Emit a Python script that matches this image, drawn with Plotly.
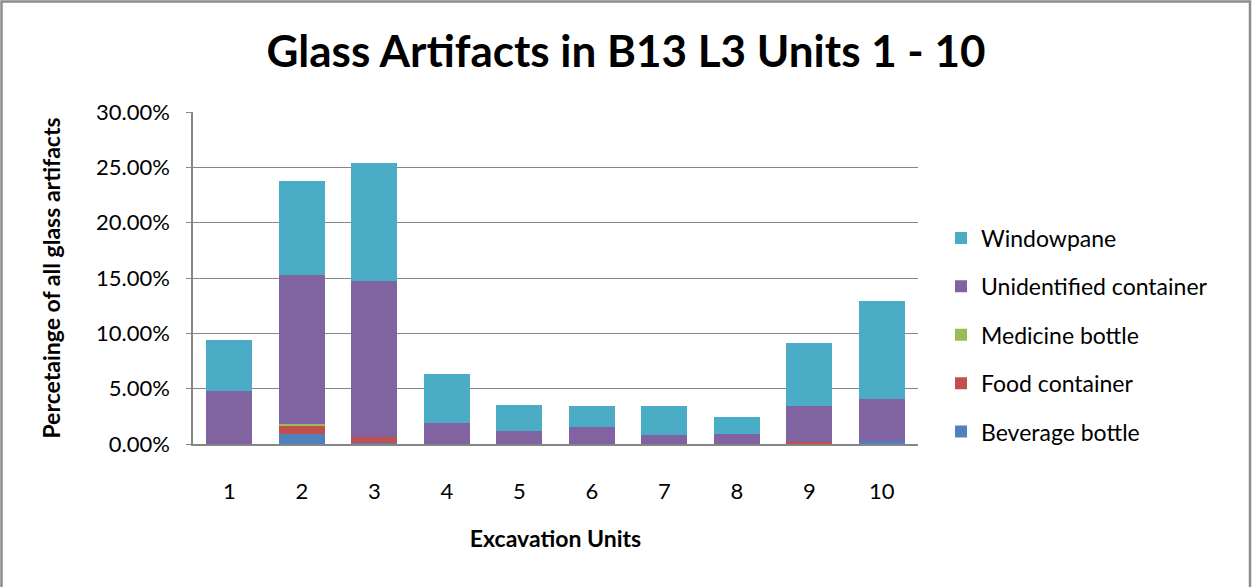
import plotly.graph_objects as go

units = ["1", "2", "3", "4", "5", "6", "7", "8", "9", "10"]
beverage = [0.0, 0.009, 0.001, 0.0, 0.0, 0.0, 0.0, 0.0, 0.0, 0.0025]
food = [0.0, 0.0075, 0.0055, 0.0, 0.0, 0.0, 0.0, 0.0, 0.0015, 0.0]
medicine = [0.0, 0.0018, 0.0, 0.0, 0.0, 0.0, 0.0, 0.0, 0.0, 0.0]
unidentified = [0.048, 0.1340, 0.141, 0.019, 0.012, 0.015, 0.008, 0.009, 0.0325, 0.0385]
windowpane = [0.046, 0.085, 0.106, 0.044, 0.023, 0.019, 0.026, 0.015, 0.057, 0.088]

series = [
    ("Beverage bottle", beverage, "#4F81BD"),
    ("Food container", food, "#C0504D"),
    ("Medicine bottle", medicine, "#9BBB59"),
    ("Unidentified container", unidentified, "#8064A2"),
    ("Windowpane", windowpane, "#4BACC6"),
]

FONT = "Lato, 'Open Sans', sans-serif"
W, H = 1252, 587
ML, MR, MT, MB = 193, 334, 112, 143

fig = go.Figure()
n = len(series)
for i, (name, vals, color) in enumerate(series):
    fig.add_trace(go.Bar(
        name=name, x=units, y=vals, legendgroup=name, legendrank=n - i,
        marker=dict(color=color, line=dict(width=0)),
        hovertemplate="%{x}: %{y:.2%}<extra>" + name + "</extra>",
    ))

pw = W - ML - MR
ph = H - MT - MB

fig.update_layout(
    width=W, height=H,
    margin=dict(l=ML, r=MR, t=MT, b=MB, autoexpand=False),
    barmode="stack", bargap=0.36,
    paper_bgcolor="white", plot_bgcolor="white",
    font=dict(family=FONT, size=20, color="#000000"),
    title=dict(text="<b>Glass Artifacts in B13 L3 Units 1 - 10</b>",
               x=0.5, xanchor="center", y=1 - 52 / H, yanchor="middle",
               font=dict(family=FONT, size=44, color="#000000")),
    legend=dict(x=(941 - ML) / pw, xanchor="left", y=1 - (335 - MT) / ph, yanchor="middle",
                traceorder="grouped", tracegroupgap=15.5,
                font=dict(family=FONT, size=23, color="#000000"),
                itemwidth=30, bgcolor="rgba(0,0,0,0)"),
    xaxis=dict(
        type="category", showgrid=False, showline=True, linecolor="#868686", linewidth=1.5,
        ticks="", tickfont=dict(family=FONT, size=22), ticklabelstandoff=27,
        title=dict(text="<b>Excavation Units</b>", font=dict(family=FONT, size=23), standoff=28),
    ),
    yaxis=dict(
        range=[0, 0.30], dtick=0.05, tickformat=".2%",
        showgrid=True, gridcolor="#868686", gridwidth=1,
        showline=True, linecolor="#868686", linewidth=1.5,
        ticks="outside", ticklen=5, tickcolor="#868686",
        tickfont=dict(family=FONT, size=22), ticklabelstandoff=12,
        title=dict(text="<b>Percetainge of all glass artifacts</b>",
                   font=dict(family=FONT, size=23), standoff=29),
    ),
    shapes=[dict(
        type="rect", xref="paper", yref="paper",
        x0=(1.5 - ML) / pw, x1=(W - 2 - ML) / pw,
        y0=-(MB + 5) / ph, y1=1 + (MT - 1.5) / ph,
        line=dict(color="#8C8C8C", width=2.5), fillcolor="rgba(0,0,0,0)", layer="above",
    )],
)

fig.write_html(
    "out.html",
    config={"displayModeBar": False},
    post_script="document.body.style.margin='0';document.body.style.overflow='hidden';",
)
